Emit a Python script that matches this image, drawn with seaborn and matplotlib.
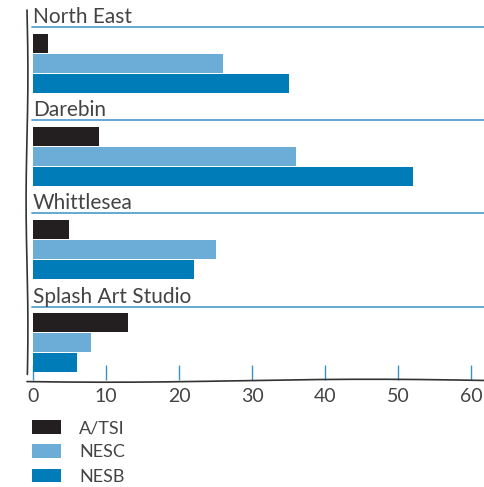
import numpy as np
import pandas as pd
import matplotlib
matplotlib.use("Agg")
import matplotlib.pyplot as plt
import seaborn as sns

# data
sites = ["North East", "Darebin", "Whittlesea", "Splash Art Studio"]
groups = ["A/TSI", "NESC", "NESB"]
atsi = [2, 9, 5, 13]
nesc = [26, 36, 25, 8]
nesb = [35, 52, 22, 6]
xticks = [0, 10, 20, 30, 40, 50, 60]

colors = ["#231f20", "#6badd6", "#007db8"]
line_blue = "#3a93c8"
text_col = "#444444"

df = pd.DataFrame({
    "site": np.repeat(sites, 3),
    "group": groups * len(sites),
    "value": np.ravel(np.column_stack([atsi, nesc, nesb])),
})

sns.set_style("white")
plt.rcParams["font.family"] = ["Lato", "DejaVu Sans"]

W, H = 485, 487
fig = plt.figure(figsize=(W / 100, H / 100), dpi=100)
ax = fig.add_axes([27 / W, 1 - 380 / H, (W - 27) / W, 370 / H])

sns.barplot(data=df, y="site", x="value", hue="group", orient="h",
            order=sites, hue_order=groups, palette=colors, saturation=1,
            width=0.645, gap=0.05, edgecolor="none", linewidth=0, ax=ax)

ax.set_xlim(-0.82, 61.9)
ax.set_ylim(3.4, -0.57)
ax.set_xlabel("")
ax.set_ylabel("")
ax.set_yticks([])
ax.set_xticks(xticks)
ax.tick_params(axis="x", bottom=True, direction="in", length=11, width=1,
               color=line_blue, labelsize=14, labelcolor=text_col, pad=6)
for s in ax.spines.values():
    s.set_visible(False)

# site headings with a blue rule underneath
for i, name in enumerate(sites):
    ax.axhline(i - 0.387, xmin=0.01, color=line_blue, lw=1.3, alpha=0.85)
    ax.text(0, i - 0.43, name, fontsize=15, color=text_col, va="baseline",
            ha="left")

# hand-drawn looking axis lines
t = np.linspace(0, 1, 200)
ax.plot(0.002 * np.sin(t * 9), 1 - t * 0.985, color="#333333", lw=1.2,
        transform=ax.transAxes, clip_on=False)
ax.plot(t, -0.004 * np.sin(t * 5.5 + 0.6) - 0.002, color="#333333", lw=1.2,
        transform=ax.transAxes, clip_on=False)

# legend below the plot
handles, labels = ax.get_legend_handles_labels()
ax.legend(handles, labels, loc="upper left", bbox_to_anchor=(32 / W, 1 - 420 / H),
          bbox_transform=fig.transFigure, frameon=False, fontsize=13,
          borderpad=0, borderaxespad=0,
          handlelength=1.6, handleheight=0.8, handletextpad=1.0,
          labelspacing=0.45, labelcolor=text_col)

fig.savefig("out.png", dpi=100)
